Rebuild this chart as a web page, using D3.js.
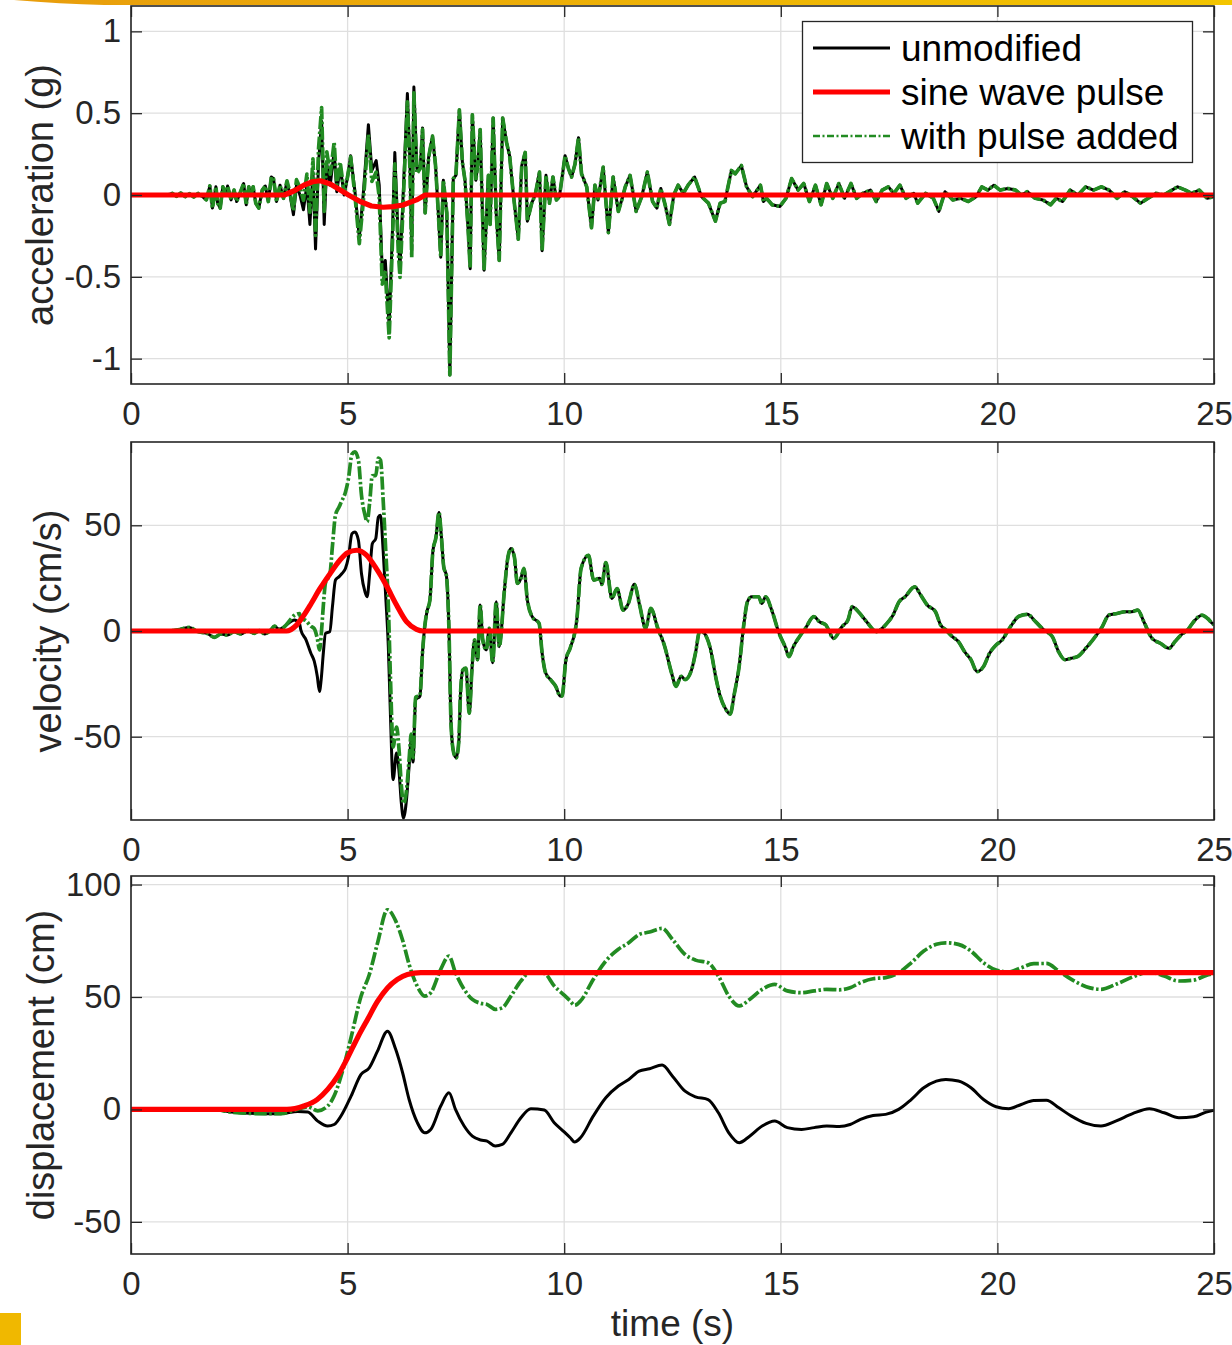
<!DOCTYPE html>
<html>
<head>
<meta charset="utf-8">
<script src="https://cdn.jsdelivr.net/npm/d3@7.9.0/dist/d3.min.js"></script>
<style>
  body { margin: 0; background: #fff; }
  svg { display: block; font-family: "Liberation Sans", Arial, Helvetica, sans-serif; }
</style>
</head>
<body>
<svg id="chart" width="1232" height="1345"></svg>
<script>
// values, [time (s), value]
const timeTicks = [0, 5, 10, 15, 20, 25];
const accTicks = [-1, -0.5, 0, 0.5, 1];
const accTickLabels = ["-1", "-0.5", "0", "0.5", "1"];
const velTicks = [-50, 0, 50];
const dispTicks = [-50, 0, 50, 100];
const seriesNames = ["unmodified", "sine wave pulse", "with pulse added"];

const accUnmod = [
  [0, 0], [0.85, 0], [0.95, 0.01], [1.05, -0.008], [1.15, 0.012], [1.25, -0.01], [1.35, 0.008],
  [1.45, -0.012], [1.55, 0.01], [1.65, -0.01], [1.74, -0.03], [1.82, 0.055], [1.88, -0.08],
  [1.96, 0.05], [2.0, -0.05], [2.06, -0.08], [2.12, 0.05], [2.19, 0], [2.23, 0.055], [2.31, -0.03],
  [2.38, 0.03], [2.44, -0.04], [2.5, 0], [2.6, 0.07], [2.66, -0.06], [2.72, 0.05], [2.77, 0],
  [2.82, 0.05], [2.88, -0.05], [2.95, -0.08], [3.03, 0.03], [3.1, 0.055], [3.17, -0.04],
  [3.24, 0.11], [3.29, 0.1], [3.36, -0.04], [3.44, 0.06], [3.52, -0.02], [3.6, 0.08], [3.67, 0],
  [3.75, -0.12], [3.82, 0.06], [3.9, 0], [3.98, -0.09], [4.06, 0.06], [4.13, -0.18], [4.2, 0.14],
  [4.26, -0.33], [4.33, 0.2], [4.4, 0.45], [4.46, -0.18], [4.52, 0.19], [4.6, 0.06], [4.69, 0.27],
  [4.75, 0.02], [4.83, 0.17], [4.92, 0], [5.0, 0.11], [5.07, 0.24], [5.17, 0.02], [5.27, -0.26],
  [5.36, 0], [5.48, 0.43], [5.56, 0.15], [5.66, 0.21], [5.73, 0.06], [5.8, -0.47], [5.87, -0.4],
  [5.96, -0.8], [6.04, -0.18], [6.09, 0.26], [6.17, -0.28], [6.21, -0.44], [6.29, 0.05],
  [6.38, 0.62], [6.44, 0.2], [6.48, -0.34], [6.53, 0.66], [6.6, 0.16], [6.68, 0.18], [6.73, 0.41],
  [6.79, -0.11], [6.87, 0.23], [6.96, 0.36], [7.03, 0.18], [7.09, -0.09], [7.15, -0.38],
  [7.21, 0.09], [7.29, -0.11], [7.36, -1.1], [7.44, 0.1], [7.5, 0.12], [7.58, 0.52], [7.65, 0.2],
  [7.71, 0.09], [7.78, -0.2], [7.83, -0.45], [7.88, 0.49], [7.96, 0.09], [8.01, 0.2], [8.06, 0.4],
  [8.15, -0.46], [8.25, 0.12], [8.29, -0.18], [8.36, 0.47], [8.43, -0.11], [8.5, -0.4],
  [8.58, 0.47], [8.67, 0.32], [8.74, 0.24], [8.82, 0.02], [8.94, -0.27], [9.02, 0.18], [9.1, 0.26],
  [9.15, -0.16], [9.25, -0.05], [9.33, 0], [9.43, 0.14], [9.49, -0.34], [9.58, 0.12], [9.66, -0.05],
  [9.74, 0.11], [9.82, -0.03], [9.89, -0.01], [10.02, 0.24], [10.1, 0.16], [10.17, 0.11],
  [10.25, 0.19], [10.33, 0.35], [10.4, 0.13], [10.52, 0.05], [10.63, -0.2], [10.71, 0.06],
  [10.78, -0.03], [10.9, 0.17], [11.02, -0.23], [11.13, 0.11], [11.25, -0.1], [11.34, -0.02],
  [11.41, 0.05], [11.52, 0.12], [11.66, -0.1], [11.79, -0.01], [11.92, 0.14], [12.04, -0.04],
  [12.14, -0.08], [12.23, 0.04], [12.33, -0.06], [12.43, -0.18], [12.53, 0], [12.63, 0.06],
  [12.75, 0.01], [12.86, 0.06], [13.01, 0.11], [13.17, -0.01], [13.33, -0.05], [13.49, -0.16],
  [13.6, -0.05], [13.71, -0.04], [13.86, 0.15], [13.95, 0.13], [14.09, 0.18], [14.21, 0.05],
  [14.35, -0.01], [14.53, 0.06], [14.6, -0.04], [14.67, -0.02], [14.8, -0.06], [14.98, -0.07],
  [15.12, -0.02], [15.25, 0.1], [15.4, 0.03], [15.53, 0.07], [15.66, -0.04], [15.8, 0.06],
  [15.93, -0.06], [16.06, 0.07], [16.2, -0.02], [16.34, 0.07], [16.47, -0.02], [16.62, 0.07],
  [16.75, -0.02], [16.89, 0.01], [17.07, 0.03], [17.2, -0.04], [17.34, 0.03], [17.48, 0.05],
  [17.61, 0.01], [17.75, 0.06], [17.89, -0.02], [18.07, 0.01], [18.16, -0.05], [18.34, 0.01],
  [18.52, -0.02], [18.65, -0.1], [18.79, 0.02], [18.97, -0.03], [19.15, -0.02], [19.33, -0.04],
  [19.51, -0.01], [19.64, 0.05], [19.78, 0.03], [19.92, 0.06], [20.06, 0.03], [20.24, 0.04],
  [20.42, 0.03], [20.55, 0], [20.69, 0.02], [20.87, -0.02], [21.05, -0.03], [21.23, -0.06],
  [21.36, -0.02], [21.5, -0.04], [21.68, 0.03], [21.86, 0], [22.04, 0.05], [22.22, 0.03],
  [22.4, 0.05], [22.58, 0.03], [22.76, -0.02], [22.94, 0.02], [23.12, -0.01], [23.3, -0.05],
  [23.48, -0.02], [23.66, 0.01], [23.84, 0], [24.03, 0.03], [24.16, 0.05], [24.34, 0.03],
  [24.48, 0.01], [24.66, 0.03], [24.84, -0.02], [25, -0.01]
];
const accPulse = [
  [0, 0], [3.54, 0], [3.77, 0.026], [4.0, 0.061], [4.19, 0.081], [4.37, 0.087], [4.6, 0.067],
  [4.83, 0.03], [5.02, 0], [5.29, -0.04], [5.55, -0.067], [5.82, -0.075], [6.05, -0.071],
  [6.28, -0.061], [6.59, -0.03], [6.79, 0], [25, 0]
];

const velUnmod = [
  [0, 0], [0.8, 0], [1.08, 0.5], [1.35, 1.7], [1.54, -0.3], [1.77, -1.2], [1.92, -3], [2.08, -1.4],
  [2.23, -1.9], [2.38, -0.3], [2.54, -1.4], [2.69, 0.2], [2.85, -1.1], [2.96, 0.2], [3.08, -1.4],
  [3.23, 0.5], [3.31, 2.3], [3.42, 0.8], [3.54, 2.0], [3.65, 3.9], [3.77, 5.2], [3.89, 3.6],
  [3.92, 0.5], [4.04, -4.2], [4.15, -10.4], [4.23, -14.3], [4.3, -21.4], [4.35, -28.6],
  [4.39, -23], [4.44, -10.4], [4.49, -1.1], [4.59, -0.3], [4.65, 11.5], [4.72, 24.1], [4.8, 25.6],
  [4.87, 27.2], [4.95, 29.6], [5.02, 35], [5.1, 46], [5.17, 46.8], [5.25, 42.9], [5.32, 27.2],
  [5.4, 18.6], [5.45, 16.2], [5.51, 27.2], [5.57, 41.3], [5.65, 43.7], [5.71, 53.9], [5.76, 54.7],
  [5.82, 38.2], [5.88, 16.2], [5.94, -7.4], [5.99, -40.4], [6.05, -70.3], [6.13, -57.7],
  [6.19, -67.1], [6.24, -81.3], [6.29, -88.4], [6.36, -79.7], [6.42, -64], [6.47, -51.4],
  [6.51, -62], [6.57, -32.5], [6.67, -30.8], [6.73, -10], [6.78, 2], [6.83, 9], [6.9, 14.6],
  [6.97, 38], [7.04, 44.3], [7.11, 56.1], [7.16, 45.9], [7.22, 30.2], [7.28, 26.3], [7.34, 0.5],
  [7.39, -45.1], [7.45, -57.7], [7.51, -60], [7.57, -51.4], [7.6, -32.5], [7.66, -18.4],
  [7.73, -17.6], [7.81, -38.9], [7.87, -18.4], [7.93, -4.2], [8.0, -13.6], [8.06, 12.3],
  [8.12, -4.2], [8.2, -8.9], [8.27, 1.3], [8.35, -15], [8.43, 13.8], [8.5, -7.4], [8.62, 19.3],
  [8.69, 33.5], [8.77, 39], [8.85, 35], [8.92, 22.5], [9.0, 24.9], [9.07, 29.6], [9.15, 14.6],
  [9.26, 6.8], [9.42, 3.6], [9.49, -10.4], [9.57, -19.8], [9.68, -22.9], [9.8, -26], [9.91, -30.8],
  [9.95, -30.8], [10.04, -13.6], [10.14, -8], [10.29, 5.2], [10.39, 29.6], [10.56, 35.8],
  [10.68, 24.1], [10.82, 24.9], [10.87, 22], [10.96, 32.4], [11.1, 15.4], [11.22, 20.1],
  [11.36, 9.9], [11.48, 13], [11.62, 22.1], [11.74, 12.3], [11.88, 1.3], [12.0, 10.7],
  [12.16, 1.3], [12.31, -6.6], [12.48, -20], [12.58, -26.2], [12.7, -21.4], [12.79, -23],
  [12.94, -18.4], [13.03, -10.5], [13.13, 0], [13.22, -0.8], [13.37, -8], [13.51, -23],
  [13.6, -30.8], [13.73, -37], [13.83, -39.3], [13.93, -29.4], [14.04, -16.5], [14.14, 2],
  [14.23, 13.8], [14.33, 16.2], [14.49, 16.2], [14.56, 13], [14.65, 16.2], [14.79, 9.9],
  [14.96, -1.1], [15.1, -7.4], [15.19, -12.1], [15.29, -7.4], [15.43, -2.7], [15.57, 1.3],
  [15.76, 6.8], [15.89, 4.4], [16.04, 2.8], [16.22, -3.5], [16.41, 2], [16.55, 5.2], [16.65, 11.5],
  [16.79, 9.1], [16.98, 4.4], [17.21, -0.3], [17.45, 3.6], [17.59, 7.5], [17.73, 13.8],
  [17.87, 16.2], [18.09, 20.9], [18.23, 17], [18.38, 12.3], [18.57, 9.1], [18.69, 2.8],
  [18.81, 0.5], [18.96, -2.7], [19.1, -5], [19.24, -9.7], [19.39, -13.6], [19.53, -19.2],
  [19.68, -16.8], [19.82, -10.5], [19.97, -6.6], [20.11, -4.2], [20.3, 2], [20.5, 7], [20.69, 7.9],
  [20.88, 4.4], [21.07, 0.5], [21.27, -2.7], [21.41, -9.7], [21.56, -13.6], [21.7, -12.9],
  [21.85, -12.1], [22.04, -8.2], [22.23, -3.5], [22.42, 2], [22.57, 7.5], [22.76, 8.3],
  [22.95, 9.1], [23.1, 9.1], [23.24, 9.9], [23.38, 4.4], [23.57, -3.5], [23.76, -5.8],
  [23.96, -8.2], [24.1, -5], [24.24, -1.9], [24.39, 0.5], [24.53, 4.4], [24.72, 7.5],
  [24.86, 5.8], [24.96, 3.6], [25, 3]
];
const velPulse = [
  [0, 0], [3.59, 0], [3.82, 2.8], [3.97, 6.8], [4.16, 13], [4.36, 20], [4.59, 27], [4.82, 33.5],
  [5.0, 37], [5.21, 38.2], [5.43, 36], [5.66, 29.6], [5.89, 21.7], [6.13, 12.3], [6.36, 4.4],
  [6.59, 0.8], [6.75, 0], [25, 0]
];

const dispUnmod = [
  [0, 0], [1.92, 0], [2.31, -1.2], [3.08, -1.9], [3.46, -1.9], [3.85, -0.9], [4.08, -1.2],
  [4.31, -5.2], [4.54, -7.4], [4.69, -6.7], [4.89, -1.5], [5.08, 5.9], [5.31, 15.6], [5.5, 18.5],
  [5.69, 25.9], [5.92, 34.8], [6.11, 26.7], [6.27, 16.3], [6.42, 4.4], [6.61, -5.9],
  [6.78, -10.4], [6.92, -8.9], [7.15, 1.5], [7.34, 7.4], [7.49, 0], [7.69, -7.4], [7.88, -11.9],
  [8.07, -13.6], [8.22, -14.1], [8.41, -16.3], [8.57, -15.6], [8.77, -10.4], [9.0, -3.7],
  [9.23, 0.3], [9.54, -0.3], [9.77, -5.9], [10.0, -10], [10.14, -12.6], [10.24, -14.5],
  [10.38, -12.5], [10.67, -3], [10.96, 5.2], [11.25, 10.4], [11.49, 13.3], [11.73, 17],
  [11.97, 18.1], [12.26, 19.7], [12.5, 14.8], [12.79, 8.1], [13.03, 5.6], [13.32, 4.4],
  [13.56, -1.5], [13.8, -10.4], [14.04, -14.8], [14.28, -11.9], [14.57, -7.4], [14.86, -5.2],
  [15.15, -8.1], [15.48, -8.9], [15.77, -8.1], [16.06, -7.4], [16.35, -7.6], [16.6, -6.7],
  [16.84, -4.4], [17.13, -2.7], [17.42, -2.2], [17.72, 0], [18.01, 4.4], [18.3, 9.6],
  [18.59, 12.6], [18.81, 13.3], [19.1, 12.6], [19.39, 9.6], [19.68, 4.4], [19.97, 1.2],
  [20.26, 0.3], [20.55, 2.2], [20.84, 4], [21.13, 4.1], [21.42, 0.7], [21.71, -3], [22.05, -6.2],
  [22.39, -7.4], [22.73, -5.2], [23.12, -1.9], [23.51, 0.3], [23.85, -1.5], [24.19, -3.7],
  [24.53, -3.3], [24.82, -1.2], [25, -0.3]
];
const dispPulse = [
  [0, 0], [3.6, 0], [3.99, 1.5], [4.3, 4.4], [4.54, 8.9], [4.77, 14.8], [5.0, 23], [5.23, 31.9],
  [5.46, 40], [5.69, 48], [5.92, 54], [6.15, 57.8], [6.38, 60], [6.69, 60.8], [25, 60.8]
];

const svg = d3.select("#chart");
const x = d3.scaleLinear().domain([0, 25]).range([131, 1214]);
const left = 131, right = 1214;
const ink = "#262626";

// slide decoration
let grad = svg.append("defs").append("linearGradient").attr("id", "bar");
grad.append("stop").attr("offset", "0%").attr("stop-color", "#e89d0c");
grad.append("stop").attr("offset", "100%").attr("stop-color", "#f3c500");
svg.append("path")
  .attr("d", "M14,0 L1232,0 L1232,5 L104,5 Q60,4 14,0 Z")
  .attr("fill", "url(#bar)");
svg.append("rect").attr("x", 0).attr("y", 1313).attr("width", 21).attr("height", 32).attr("fill", "#f0b800");

// unmodified record plus the pulse
function addPulse(unmod, pulse) {
  let p = d3.scaleLinear()
    .domain(pulse.map((d) => d[0]))
    .range(pulse.map((d) => d[1]))
    .clamp(true);
  return unmod.map(([t, v]) => [t, v + p(t)]);
}

const panels = [
  { top: 6, bottom: 384, domain: [-1.155, 1.155], ticks: accTicks, labels: accTickLabels,
    title: "acceleration (g)", labelX: 53, unmod: accUnmod, pulse: accPulse, curve: d3.curveLinear },
  { top: 442, bottom: 820, domain: [-89.4, 89.4], ticks: velTicks, labels: velTicks.map(String),
    title: "velocity (cm/s)", labelX: 61, unmod: velUnmod, pulse: velPulse, curve: d3.curveMonotoneX },
  { top: 876, bottom: 1254, domain: [-64.3, 103.8], ticks: dispTicks, labels: dispTicks.map(String),
    title: "displacement (cm)", labelX: 54, unmod: dispUnmod, pulse: dispPulse, curve: d3.curveMonotoneX },
];

function styleAxis(g) {
  g.select(".domain").remove();
  g.selectAll(".tick line").attr("stroke", ink).attr("stroke-width", 1.3);
  g.selectAll(".tick text").attr("fill", ink).attr("font-size", 33)
    .attr("font-family", '"Liberation Sans", Arial, Helvetica, sans-serif');
}

panels.forEach((p, i) => {
  let y = d3.scaleLinear().domain(p.domain).range([p.bottom, p.top]);
  let g = svg.append("g");

  g.append("clipPath").attr("id", "clip" + i)
    .append("rect").attr("x", left).attr("y", p.top)
    .attr("width", right - left).attr("height", p.bottom - p.top);

  // grid
  g.append("g").selectAll("line").data(timeTicks).join("line")
    .attr("x1", (d) => x(d)).attr("x2", (d) => x(d))
    .attr("y1", p.top).attr("y2", p.bottom)
    .attr("stroke", "#dfdfdf").attr("stroke-width", 1.3);
  g.append("g").selectAll("line").data(p.ticks).join("line")
    .attr("x1", left).attr("x2", right)
    .attr("y1", (d) => y(d)).attr("y2", (d) => y(d))
    .attr("stroke", "#dfdfdf").attr("stroke-width", 1.3);

  let line = d3.line().x((d) => x(d[0])).y((d) => y(d[1])).curve(p.curve);
  let lines = g.append("g").attr("clip-path", `url(#clip${i})`)
    .attr("fill", "none").attr("stroke-linejoin", "round");
  lines.append("path").attr("d", line(p.unmod))
    .attr("stroke", "#000").attr("stroke-width", 3);
  lines.append("path").attr("d", line(addPulse(p.unmod, p.pulse)))
    .attr("stroke", "#228b22").attr("stroke-width", 3.7)
    .attr("stroke-dasharray", "13,2.5,2.5,2.5");
  lines.append("path").attr("d", line(p.pulse))
    .attr("stroke", "#ff0000").attr("stroke-width", 5.2);

  // axes, ticks pointing inward
  g.append("g").attr("transform", `translate(0,${p.bottom})`)
    .call(d3.axisBottom(x).tickValues(timeTicks).tickSize(-11).tickSizeOuter(0).tickPadding(17.6))
    .call(styleAxis);
  g.append("g").attr("transform", `translate(0,${p.top})`)
    .call(d3.axisTop(x).tickValues(timeTicks).tickSize(-11).tickSizeOuter(0).tickFormat(""))
    .call(styleAxis);
  g.append("g").attr("transform", `translate(${left},0)`)
    .call(d3.axisLeft(y).tickValues(p.ticks).tickSize(-11).tickSizeOuter(0).tickPadding(10)
      .tickFormat((d, k) => p.labels[k]))
    .call(styleAxis);
  g.append("g").attr("transform", `translate(${right},0)`)
    .call(d3.axisRight(y).tickValues(p.ticks).tickSize(-11).tickSizeOuter(0).tickFormat(""))
    .call(styleAxis);

  g.append("rect").attr("x", left).attr("y", p.top)
    .attr("width", right - left).attr("height", p.bottom - p.top)
    .attr("fill", "none").attr("stroke", ink).attr("stroke-width", 1.6);

  g.append("text")
    .attr("transform", `translate(${p.labelX},${(p.top + p.bottom) / 2}) rotate(-90)`)
    .attr("text-anchor", "middle").attr("font-size", 38).attr("fill", ink)
    .text(p.title);
});

svg.append("text").attr("x", (left + right) / 2).attr("y", 1336)
  .attr("text-anchor", "middle").attr("font-size", 37).attr("fill", ink)
  .text("time (s)");

// legend
let legend = svg.append("g");
legend.append("rect").attr("x", 802.5).attr("y", 21.5).attr("width", 390).attr("height", 141)
  .attr("fill", "#fff").attr("stroke", ink).attr("stroke-width", 1.3);
let legendStyles = [
  { stroke: "#000", width: 3, dash: null },
  { stroke: "#ff0000", width: 5.2, dash: null },
  { stroke: "#228b22", width: 2.4, dash: "7,2.5,2,2.5" },
];
seriesNames.forEach((name, i) => {
  let cy = 48 + i * 44;
  legend.append("line").attr("x1", 813).attr("x2", 890).attr("y1", cy).attr("y2", cy)
    .attr("stroke", legendStyles[i].stroke).attr("stroke-width", legendStyles[i].width)
    .attr("stroke-dasharray", legendStyles[i].dash);
  legend.append("text").attr("x", 901).attr("y", cy + 13)
    .attr("font-size", 37).attr("fill", "#000").text(name);
});
</script>
</body>
</html>
